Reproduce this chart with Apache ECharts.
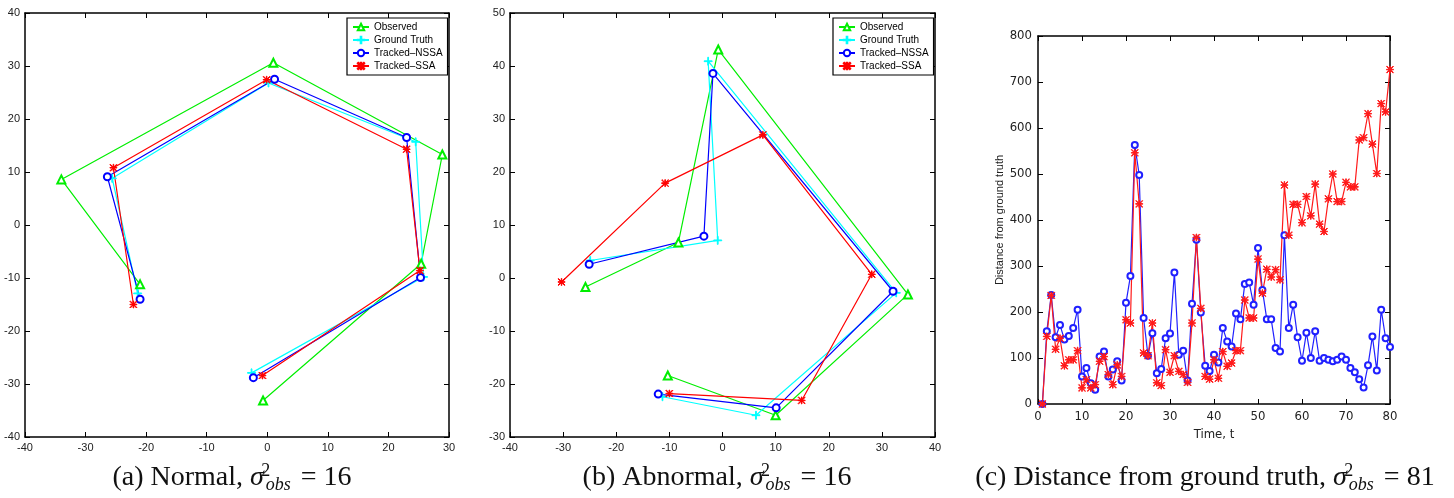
<!DOCTYPE html>
<html>
<head>
<meta charset="utf-8">
<title>Tracking results</title>
<script src="https://cdn.jsdelivr.net/npm/echarts@6.0.0/dist/echarts.min.js"></script>
<style>
  html, body { margin: 0; padding: 0; background: #fff; }
  #main { width: 1454px; height: 498px; }
</style>
</head>
<body>
<div id="main"></div>
<script>
// panel (a): normal target, [x, y] per time step
const observedA = [[-21.0, -11.2], [-34.0, 8.6], [1.0, 30.6], [28.9, 13.3], [25.4, -7.3], [-0.7, -33.1]];
const truthA = [[-21.4, -12.9], [-25.6, 8.8], [0.2, 26.8], [24.5, 15.7], [25.8, -9.8], [-2.6, -27.9]];
const nssaA = [[-21.0, -14.0], [-26.4, 9.1], [1.2, 27.5], [23.0, 16.5], [25.3, -9.9], [-2.3, -28.8]];
const ssaA = [[-22.1, -15.0], [-25.4, 10.8], [-0.1, 27.4], [23.0, 14.3], [25.2, -8.6], [-0.8, -28.4]];

// panel (b): abnormal target
const observedB = [[-10.3, -18.4], [10.0, -25.9], [34.9, -3.1], [-0.8, 43.1], [-8.3, 6.7], [-25.8, -1.7]];
const truthB = [[-11.3, -22.4], [6.3, -25.9], [32.7, -2.8], [-2.7, 40.9], [-0.9, 7.1], [-24.9, 3.3]];
const nssaB = [[-12.1, -21.9], [10.1, -24.5], [32.1, -2.5], [-1.8, 38.6], [-3.5, 7.9], [-25.1, 2.6]];
const ssaB = [[-10.0, -21.8], [14.9, -23.1], [28.1, 0.7], [7.6, 27.0], [-10.8, 17.9], [-30.3, -0.75]];

// panel (c): distance from ground truth over time
const timeSteps = [1, 2, 3, 4, 5, 6, 7, 8, 9, 10, 11, 12, 13, 14, 15, 16, 17, 18, 19, 20,
  21, 22, 23, 24, 25, 26, 27, 28, 29, 30, 31, 32, 33, 34, 35, 36, 37, 38, 39, 40,
  41, 42, 43, 44, 45, 46, 47, 48, 49, 50, 51, 52, 53, 54, 55, 56, 57, 58, 59, 60,
  61, 62, 63, 64, 65, 66, 67, 68, 69, 70, 71, 72, 73, 74, 75, 76, 77, 78, 79, 80];
const nssaDist = [0, 158, 237, 145, 172, 140, 148, 165, 205, 60,
  78, 45, 31, 103, 114, 60, 75, 93, 51, 220,
  278, 563, 498, 187, 105, 154, 67, 76, 143, 153,
  286, 107, 116, 51, 218, 357, 199, 83, 72, 107,
  90, 165, 136, 125, 197, 184, 261, 264, 216, 339,
  248, 184, 184, 122, 114, 367, 165, 216, 145, 94,
  155, 100, 158, 94, 100, 96, 93, 96, 103, 96,
  78, 69, 54, 36, 84, 147, 73, 205, 143, 124];
const ssaDist = [0, 147, 236, 119, 143, 83, 96, 96, 116, 35,
  53, 35, 42, 93, 103, 64, 42, 85, 60, 183,
  176, 546, 435, 111, 105, 176, 46, 40, 118, 69,
  105, 71, 64, 47, 176, 362, 208, 60, 54, 96,
  56, 114, 82, 89, 116, 116, 226, 187, 187, 315,
  241, 293, 276, 292, 270, 476, 367, 434, 434, 394,
  451, 409, 478, 391, 375, 446, 500, 440, 440, 482,
  472, 472, 574, 579, 631, 565, 501, 653, 635, 727];

const seriesNames = ['Observed', 'Ground Truth', 'Tracked\u2013NSSA', 'Tracked\u2013SSA'];

// MATLAB-like '*' and '+' markers
const STAR = 'path://M4.6 0H5.4V10H4.6Z M0 4.6H10V5.4H0Z M0.6 0L10 9.4L9.4 10L0 0.6Z M9.4 0L10 0.6L0.6 10L0 9.4Z';
const PLUS = 'path://M4.5 0H5.5V10H4.5Z M0 4.5H10V5.5H0Z';

const sans = "'Liberation Sans', Arial, sans-serif";
const narrow = "'Liberation Sans Narrow', 'DejaVu Sans Condensed', 'Liberation Sans', sans-serif";
const serif = "'Liberation Serif', 'Times New Roman', serif";

const chart = echarts.init(document.getElementById('main'));

function boxAxes(gridIndex, xr, yr, font, fontSize, labelMargin) {
  const tick = { show: true, inside: true, length: 5, lineStyle: { color: '#000', width: 1 } };
  const line = { show: true, onZero: false, lineStyle: { color: '#000', width: 1.5 } };
  const label = { color: '#222', fontFamily: font, fontSize: fontSize, margin: labelMargin };
  const common = { type: 'value', gridIndex, splitLine: { show: false }, axisLine: line, axisTick: tick };
  return {
    x: [
      Object.assign({}, common, { min: xr[0], max: xr[1], interval: xr[2], position: 'bottom', axisLabel: label }),
      Object.assign({}, common, { min: xr[0], max: xr[1], interval: xr[2], position: 'top', axisLabel: { show: false } })
    ],
    y: [
      Object.assign({}, common, { min: yr[0], max: yr[1], interval: yr[2], position: 'left', axisLabel: label }),
      Object.assign({}, common, { min: yr[0], max: yr[1], interval: yr[2], position: 'right', axisLabel: { show: false } })
    ]
  };
}

const axA = boxAxes(0, [-40, 30, 10], [-40, 40, 10], sans, 11, 5);
const axB = boxAxes(1, [-40, 40, 10], [-30, 50, 10], sans, 11, 5);
const axC = boxAxes(2, [0, 80, 10], [0, 800, 100], narrow, 13, 6);
axC.x[0].name = 'Time, t';
axC.x[0].nameLocation = 'middle';
axC.x[0].nameGap = 24;
axC.x[0].nameTextStyle = { fontFamily: narrow, fontSize: 13, color: '#222' };
axC.y[0].name = 'Distance from ground truth';
axC.y[0].nameLocation = 'middle';
axC.y[0].nameGap = 17;
axC.y[0].nameTextStyle = { fontFamily: sans, fontSize: 11, color: '#222' };

function track(name, data, color, symbol, size, idx) {
  return {
    name, type: 'line', data,
    xAxisIndex: idx, yAxisIndex: idx,
    symbol, symbolSize: size, showSymbol: true, showAllSymbol: true,
    lineStyle: { color, width: 1.2 },
    itemStyle: { color, borderColor: color, borderWidth: 1 },
    emphasis: { disabled: true },
    animation: false
  };
}

const legendBase = {
  data: seriesNames,
  orient: 'vertical',
  top: 18,
  itemWidth: 16,
  itemHeight: 8,
  itemGap: 3,
  padding: [4, 5, 4, 5],
  borderColor: '#000',
  borderWidth: 1.2,
  backgroundColor: '#fff',
  textStyle: { fontFamily: sans, fontSize: 10, color: '#000' }
};

function caption(x, letter, word, val) {
  return {
    type: 'text', x: x, y: 478,
    style: {
      text: '{t|' + letter + ' ' + word + ', }{m|\u03c3}{sup|2}{sub|obs}{t| = ' + val + '}',
      align: 'center', verticalAlign: 'middle',
      rich: {
        t: { fontFamily: serif, fontSize: 28, lineHeight: 32, fill: '#111' },
        m: { fontFamily: serif, fontStyle: 'italic', fontSize: 28, lineHeight: 32, fill: '#111', padding: [0, 2, 0, 0] },
        sup: { fontFamily: serif, fontSize: 18, lineHeight: 16, width: 0, verticalAlign: 'top', fill: '#111' },
        sub: { fontFamily: serif, fontStyle: 'italic', fontSize: 18, lineHeight: 14, verticalAlign: 'bottom', fill: '#111', padding: [0, 3, 0, 0] }
      }
    }
  };
}

const option = {
  backgroundColor: '#fff',
  animation: false,
  grid: [
    { left: 25, top: 13, width: 424, height: 424 },
    { left: 510, top: 13, width: 425, height: 424 },
    { left: 1038, top: 36, width: 352, height: 368 }
  ],
  xAxis: [...axA.x, ...axB.x, ...axC.x],
  yAxis: [...axA.y, ...axB.y, ...axC.y],
  legend: [
    Object.assign({}, legendBase, { left: 347 }),
    Object.assign({}, legendBase, { left: 833 })
  ],
  series: [
    track(seriesNames[0], observedA, '#00ee00', 'emptyTriangle', 8, 0),
    track(seriesNames[1], truthA, '#00ffff', PLUS, 8, 0),
    track(seriesNames[2], nssaA, '#0000ff', 'emptyCircle', 7, 0),
    track(seriesNames[3], ssaA, '#ff0000', STAR, 7, 0),
    track(seriesNames[0], observedB, '#00ee00', 'emptyTriangle', 8, 2),
    track(seriesNames[1], truthB, '#00ffff', PLUS, 8, 2),
    track(seriesNames[2], nssaB, '#0000ff', 'emptyCircle', 7, 2),
    track(seriesNames[3], ssaB, '#ff0000', STAR, 7, 2),
    track('NSSA distance', nssaDist.map((v, i) => [timeSteps[i], v]), '#2020ff', 'emptyCircle', 6, 4),
    track('SSA distance', ssaDist.map((v, i) => [timeSteps[i], v]), '#ff1a1a', STAR, 7, 4)
  ],
  graphic: [
    caption(232, '(a)', 'Normal', '16'),
    caption(717, '(b)', 'Abnormal', '16'),
    caption(1205, '(c)', 'Distance from ground truth', '81')
  ]
};

chart.setOption(option);

window.addEventListener('resize', () => {
  chart.resize();
});
</script>
</body>
</html>
